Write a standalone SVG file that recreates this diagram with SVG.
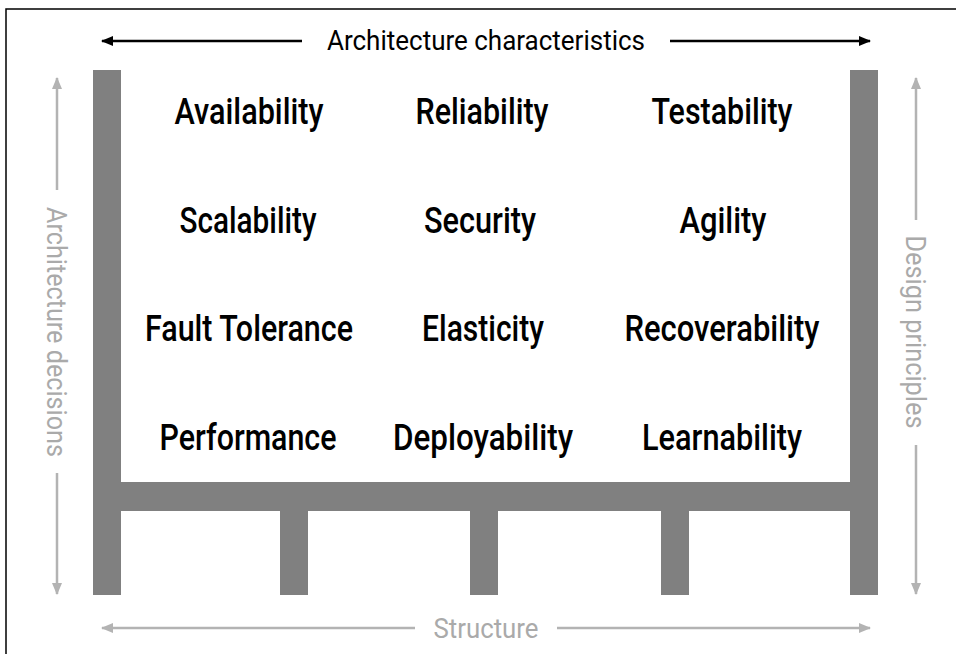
<svg xmlns="http://www.w3.org/2000/svg" width="956" height="654" viewBox="0 0 956 654">
<style>
.frame{fill:none;stroke:#000;stroke-width:1.5}
.bar{fill:#808080}
.big{font-family:Roboto,"Liberation Sans",sans-serif;font-weight:500;font-size:36px;fill:#000;text-anchor:middle}
.title{font-family:Roboto,"Liberation Sans",sans-serif;font-size:27px;fill:#000;text-anchor:middle}
.side{font-family:Roboto,"Liberation Sans",sans-serif;font-weight:400;font-size:27px;fill:#aaaaaa;text-anchor:middle}
.blk{stroke:#000;stroke-width:2.5;fill:none}
.gry{stroke:#b3b3b3;stroke-width:2.5;fill:none}
</style>
<defs>
<marker id="ab" viewBox="0 0 12 10" refX="11" refY="5" markerWidth="12" markerHeight="10" markerUnits="userSpaceOnUse" orient="auto"><path d="M0,0 L12,5 L0,10 Z" fill="#000"/></marker>
<marker id="ag" viewBox="0 0 12 10" refX="11" refY="5" markerWidth="12" markerHeight="10" markerUnits="userSpaceOnUse" orient="auto"><path d="M0,0 L12,5 L0,10 Z" fill="#b3b3b3"/></marker>
</defs>
<rect class="frame" x="6" y="9" width="960" height="660"/>
<g id="structure">
<rect class="bar" x="93" y="70" width="28" height="525"/>
<rect class="bar" x="850" y="70" width="28" height="525"/>
<rect class="bar" x="121" y="482" width="729" height="29"/>
<rect class="bar" x="280" y="511" width="28" height="84"/>
<rect class="bar" x="470" y="511" width="28" height="84"/>
<rect class="bar" x="661" y="511" width="28" height="84"/>
</g>
<g id="connectors">
<line class="blk" x1="302" y1="41" x2="102" y2="41" marker-end="url(#ab)"/>
<line class="blk" x1="670" y1="41" x2="870" y2="41" marker-end="url(#ab)"/>
<line class="gry" x1="415" y1="628" x2="102" y2="628" marker-end="url(#ag)"/>
<line class="gry" x1="557" y1="628" x2="870" y2="628" marker-end="url(#ag)"/>
<line class="gry" x1="57" y1="190" x2="57" y2="78" marker-end="url(#ag)"/>
<line class="gry" x1="57" y1="473" x2="57" y2="594" marker-end="url(#ag)"/>
<line class="gry" x1="916" y1="220" x2="916" y2="78" marker-end="url(#ag)"/>
<line class="gry" x1="916" y1="445" x2="916" y2="594" marker-end="url(#ag)"/>
</g>
<g id="labels">
<text class="title" x="486" y="50" textLength="318" lengthAdjust="spacingAndGlyphs">Architecture characteristics</text>
<text class="side" x="486" y="638" textLength="105" lengthAdjust="spacingAndGlyphs">Structure</text>
<text class="side" transform="translate(47,332) rotate(90)" x="0" y="0" textLength="250" lengthAdjust="spacingAndGlyphs">Architecture decisions</text>
<text class="side" transform="translate(906,332) rotate(90)" x="0" y="0" textLength="193" lengthAdjust="spacingAndGlyphs">Design principles</text>
</g>
<g id="n-availability"><text class="big" x="249" y="124" textLength="149" lengthAdjust="spacingAndGlyphs">Availability</text></g>
<g id="n-reliability"><text class="big" x="482" y="124" textLength="133" lengthAdjust="spacingAndGlyphs">Reliability</text></g>
<g id="n-testability"><text class="big" x="722" y="124" textLength="141" lengthAdjust="spacingAndGlyphs">Testability</text></g>
<g id="n-scalability"><text class="big" x="248" y="233" textLength="137" lengthAdjust="spacingAndGlyphs">Scalability</text></g>
<g id="n-security"><text class="big" x="480" y="233" textLength="112" lengthAdjust="spacingAndGlyphs">Security</text></g>
<g id="n-agility"><text class="big" x="723" y="233" textLength="87" lengthAdjust="spacingAndGlyphs">Agility</text></g>
<g id="n-fault"><text class="big" x="249" y="341" textLength="208" lengthAdjust="spacingAndGlyphs">Fault Tolerance</text></g>
<g id="n-elasticity"><text class="big" x="483" y="341" textLength="122" lengthAdjust="spacingAndGlyphs">Elasticity</text></g>
<g id="n-recoverability"><text class="big" x="722" y="341" textLength="195" lengthAdjust="spacingAndGlyphs">Recoverability</text></g>
<g id="n-performance"><text class="big" x="248" y="450" textLength="177" lengthAdjust="spacingAndGlyphs">Performance</text></g>
<g id="n-deployability"><text class="big" x="483" y="450" textLength="180" lengthAdjust="spacingAndGlyphs">Deployability</text></g>
<g id="n-learnability"><text class="big" x="722" y="450" textLength="160" lengthAdjust="spacingAndGlyphs">Learnability</text></g>
</svg>
